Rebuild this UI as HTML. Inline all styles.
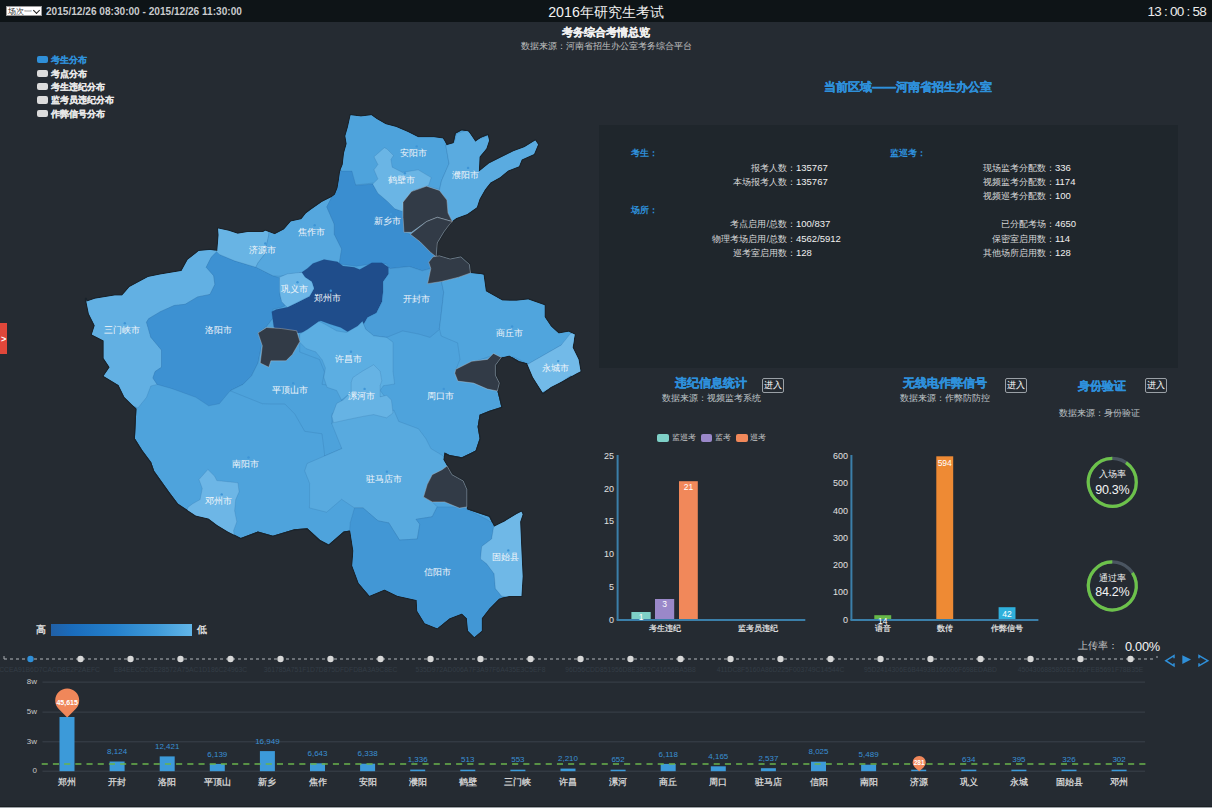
<!DOCTYPE html>
<html><head><meta charset="utf-8">
<style>
*{margin:0;padding:0;box-sizing:border-box}
html,body{width:1212px;height:808px;overflow:hidden;background:#252b32;font-family:"Liberation Sans",sans-serif;color:#ddd;position:relative}
.a{position:absolute;white-space:nowrap}
#hdr{position:absolute;left:0;top:0;width:1212px;height:22px;background:#0e1417}
.sel{position:absolute;left:6px;top:6px;width:36px;height:10px;background:#fff;border:1px solid #999;font-size:8px;color:#333;line-height:9px;padding-left:1px}
.sel i{position:absolute;right:2px;top:1px;width:5px;height:5px;border-right:1.3px solid #222;border-bottom:1.3px solid #222;transform:rotate(45deg)}
.ml{font-size:9px;fill:#f2f6fa}
.leg{position:absolute;left:36.5px;width:11px;height:7.5px;border-radius:2px;background:#dcdcdc}
.legt{position:absolute;left:50.5px;font-size:9px;font-weight:bold;color:#e6e6e6;line-height:12px;-webkit-text-stroke:0.2px currentColor}
.lbl{font-size:9.3px;color:#d8d8d8;line-height:12px;text-align:right}
.val{font-size:9.5px;color:#f0f0f0;line-height:12px}
.ctitle{font-size:12px;font-weight:bold;color:#2e90db;line-height:14px;-webkit-text-stroke:0.3px #2e90db}
.btn{position:absolute;width:22px;height:15px;border:1px solid #9aa0a6;border-radius:2px;font-size:9px;color:#fff;text-align:center;line-height:13px}
.sub{font-size:9px;color:#bfc3c7;line-height:11px}
.tick{font-size:9px;color:#e0e0e0;line-height:10px;text-align:right}
</style></head><body>
<div id="hdr"></div>
<div class="sel">场次一<i></i></div>
<div class="a" style="left:46px;top:5px;font-size:10.1px;font-weight:bold;color:#c9cbcd;line-height:14px">2015/12/26 08:30:00 - 2015/12/26 11:30:00</div>
<div class="a" style="left:0;width:1212px;text-align:center;top:3px;font-size:14.2px;color:#f2f2f2;line-height:18px">2016年研究生考试</div>
<div class="a" style="right:6px;top:3px;font-size:13.5px;letter-spacing:-0.75px;color:#ececec;line-height:17px">13 : 00 : 58</div>

<div class="a" style="left:0;width:1212px;text-align:center;top:25px;font-size:11.4px;font-weight:bold;color:#f0f0f0;line-height:14px;-webkit-text-stroke:0.25px #f0f0f0">考务综合考情总览</div>
<div class="a" style="left:0;width:1212px;text-align:center;top:40px;font-size:9px;color:#c0c0c0;line-height:12px">数据来源：河南省招生办公室考务综合平台</div>

<div class="leg" style="top:55.5px;background:#2f8fd8"></div><div class="legt" style="top:53.5px;color:#2f8fd8">考生分布</div>
<div class="leg" style="top:69.5px"></div><div class="legt" style="top:67.5px">考点分布</div>
<div class="leg" style="top:82.7px"></div><div class="legt" style="top:80.7px">考生违纪分布</div>
<div class="leg" style="top:96.2px"></div><div class="legt" style="top:94.2px">监考员违纪分布</div>
<div class="leg" style="top:109.7px"></div><div class="legt" style="top:107.7px">作弊信号分布</div>

<svg class="a" style="left:0;top:0" width="1212" height="808" viewBox="0 0 1212 808">
<defs><clipPath id="cp"><polygon points="86.2,301.8 94.9,298.7 114.7,295.6 122.1,295.6 129.5,287.0 148.1,277.1 160.4,274.6 181.5,270.9 187.7,259.8 198.8,251.1 210.0,249.9 217.4,251.1 218.6,235.0 218.1,228.5 228.5,230.8 237.7,233.7 248.1,232.0 263.1,232.0 265.4,230.8 274.7,234.3 283.9,229.6 290.9,221.6 301.3,219.2 305.9,213.5 310.5,210.0 321.9,202.0 331.8,197.0 335.0,194.5 337.6,188.0 338.9,180.2 340.2,171.1 342.8,164.6 344.1,152.9 346.7,143.8 345.4,136.0 348.0,126.9 350.6,115.2 361.0,116.5 371.4,115.2 376.6,119.1 385.7,124.3 396.1,126.9 407.8,132.1 418.2,137.3 433.8,137.3 442.9,138.6 446.8,145.1 453.6,143.2 455.7,133.6 461.8,130.2 468.6,131.6 475.4,141.8 480.9,137.7 487.7,135.0 489.0,140.4 486.3,148.6 479.5,156.8 478.8,171.8 489.0,163.6 499.9,158.1 513.5,151.3 524.4,147.2 535.3,140.4 538.0,144.5 534.0,154.0 521.7,159.5 519.0,166.3 508.1,170.4 499.9,177.2 490.4,182.6 484.9,189.5 479.5,199.0 476.8,207.2 467.2,214.0 456.3,218.1 450.9,222.1 443.7,232.2 437.3,242.9 436.2,256.8 439.4,255.8 450.1,259.0 460.9,256.8 469.4,264.4 470.5,273.0 480.2,274.0 483.5,274.7 485.8,291.2 502.3,300.6 516.6,300.8 528.2,299.4 544.6,305.3 544.6,317.0 551.0,326.6 558.7,333.5 568.6,331.7 574.6,334.6 572.6,347.5 578.5,359.4 580.5,371.2 576.6,373.2 562.7,381.1 550.8,387.1 542.9,393.0 533.0,377.2 527.1,363.3 519.2,361.3 509.3,355.4 501.3,357.4 495.4,365.3 495.4,375.2 499.4,383.1 497.4,391.0 499.4,399.0 501.3,406.9 489.5,410.8 479.6,414.8 477.6,426.7 479.6,438.5 475.6,450.4 471.8,452.4 461.9,457.3 449.5,454.9 444.6,452.4 443.3,459.8 447.1,466.0 452.0,474.7 463.2,480.9 466.9,489.5 466.9,509.3 474.3,511.8 489.2,516.8 494.1,526.7 504.0,521.7 516.4,514.3 521.4,511.8 522.6,514.3 520.1,521.7 521.4,551.5 522.6,576.2 521.4,596.0 509.0,596.0 499.1,598.5 489.2,608.4 481.7,618.3 481.7,630.7 474.3,636.9 468.1,630.7 466.9,618.3 461.9,613.4 449.5,618.3 437.2,628.2 424.8,623.3 417.3,610.9 416.7,600.1 397.4,595.8 384.5,589.4 369.5,595.8 358.7,583.0 352.3,565.8 353.4,550.8 350.2,530.4 343.7,531.5 328.7,544.4 320.1,540.1 307.3,528.3 294.4,529.3 272.9,535.8 257.9,531.5 240.8,537.9 227.9,531.5 217.2,525.0 208.6,518.6 200.0,516.5 195.8,515.6 178.0,503.7 169.0,491.8 154.2,471.1 151.2,462.2 142.3,450.3 134.9,438.4 136.4,408.7 124.5,396.9 118.6,385.0 103.7,376.1 109.7,367.2 103.7,358.3 103.7,340.5 91.9,334.5 94.8,325.6 88.9,313.7 85.9,298.9"/></clipPath></defs>
<polygon points="86.2,301.8 94.9,298.7 114.7,295.6 122.1,295.6 129.5,287.0 148.1,277.1 160.4,274.6 181.5,270.9 187.7,259.8 198.8,251.1 210.0,249.9 217.4,251.1 218.6,235.0 218.1,228.5 228.5,230.8 237.7,233.7 248.1,232.0 263.1,232.0 265.4,230.8 274.7,234.3 283.9,229.6 290.9,221.6 301.3,219.2 305.9,213.5 310.5,210.0 321.9,202.0 331.8,197.0 335.0,194.5 337.6,188.0 338.9,180.2 340.2,171.1 342.8,164.6 344.1,152.9 346.7,143.8 345.4,136.0 348.0,126.9 350.6,115.2 361.0,116.5 371.4,115.2 376.6,119.1 385.7,124.3 396.1,126.9 407.8,132.1 418.2,137.3 433.8,137.3 442.9,138.6 446.8,145.1 453.6,143.2 455.7,133.6 461.8,130.2 468.6,131.6 475.4,141.8 480.9,137.7 487.7,135.0 489.0,140.4 486.3,148.6 479.5,156.8 478.8,171.8 489.0,163.6 499.9,158.1 513.5,151.3 524.4,147.2 535.3,140.4 538.0,144.5 534.0,154.0 521.7,159.5 519.0,166.3 508.1,170.4 499.9,177.2 490.4,182.6 484.9,189.5 479.5,199.0 476.8,207.2 467.2,214.0 456.3,218.1 450.9,222.1 443.7,232.2 437.3,242.9 436.2,256.8 439.4,255.8 450.1,259.0 460.9,256.8 469.4,264.4 470.5,273.0 480.2,274.0 483.5,274.7 485.8,291.2 502.3,300.6 516.6,300.8 528.2,299.4 544.6,305.3 544.6,317.0 551.0,326.6 558.7,333.5 568.6,331.7 574.6,334.6 572.6,347.5 578.5,359.4 580.5,371.2 576.6,373.2 562.7,381.1 550.8,387.1 542.9,393.0 533.0,377.2 527.1,363.3 519.2,361.3 509.3,355.4 501.3,357.4 495.4,365.3 495.4,375.2 499.4,383.1 497.4,391.0 499.4,399.0 501.3,406.9 489.5,410.8 479.6,414.8 477.6,426.7 479.6,438.5 475.6,450.4 471.8,452.4 461.9,457.3 449.5,454.9 444.6,452.4 443.3,459.8 447.1,466.0 452.0,474.7 463.2,480.9 466.9,489.5 466.9,509.3 474.3,511.8 489.2,516.8 494.1,526.7 504.0,521.7 516.4,514.3 521.4,511.8 522.6,514.3 520.1,521.7 521.4,551.5 522.6,576.2 521.4,596.0 509.0,596.0 499.1,598.5 489.2,608.4 481.7,618.3 481.7,630.7 474.3,636.9 468.1,630.7 466.9,618.3 461.9,613.4 449.5,618.3 437.2,628.2 424.8,623.3 417.3,610.9 416.7,600.1 397.4,595.8 384.5,589.4 369.5,595.8 358.7,583.0 352.3,565.8 353.4,550.8 350.2,530.4 343.7,531.5 328.7,544.4 320.1,540.1 307.3,528.3 294.4,529.3 272.9,535.8 257.9,531.5 240.8,537.9 227.9,531.5 217.2,525.0 208.6,518.6 200.0,516.5 195.8,515.6 178.0,503.7 169.0,491.8 154.2,471.1 151.2,462.2 142.3,450.3 134.9,438.4 136.4,408.7 124.5,396.9 118.6,385.0 103.7,376.1 109.7,367.2 103.7,358.3 103.7,340.5 91.9,334.5 94.8,325.6 88.9,313.7 85.9,298.9" fill="none" stroke="#1a232b" stroke-width="2.2" stroke-linejoin="round"/>
<g clip-path="url(#cp)">
<polygon points="86.2,301.8 94.9,298.7 114.7,295.6 122.1,295.6 129.5,287.0 148.1,277.1 160.4,274.6 181.5,270.9 187.7,259.8 198.8,251.1 210.0,249.9 217.4,251.1 218.6,235.0 218.1,228.5 228.5,230.8 237.7,233.7 248.1,232.0 263.1,232.0 265.4,230.8 274.7,234.3 283.9,229.6 290.9,221.6 301.3,219.2 305.9,213.5 310.5,210.0 321.9,202.0 331.8,197.0 335.0,194.5 337.6,188.0 338.9,180.2 340.2,171.1 342.8,164.6 344.1,152.9 346.7,143.8 345.4,136.0 348.0,126.9 350.6,115.2 361.0,116.5 371.4,115.2 376.6,119.1 385.7,124.3 396.1,126.9 407.8,132.1 418.2,137.3 433.8,137.3 442.9,138.6 446.8,145.1 453.6,143.2 455.7,133.6 461.8,130.2 468.6,131.6 475.4,141.8 480.9,137.7 487.7,135.0 489.0,140.4 486.3,148.6 479.5,156.8 478.8,171.8 489.0,163.6 499.9,158.1 513.5,151.3 524.4,147.2 535.3,140.4 538.0,144.5 534.0,154.0 521.7,159.5 519.0,166.3 508.1,170.4 499.9,177.2 490.4,182.6 484.9,189.5 479.5,199.0 476.8,207.2 467.2,214.0 456.3,218.1 450.9,222.1 443.7,232.2 437.3,242.9 436.2,256.8 439.4,255.8 450.1,259.0 460.9,256.8 469.4,264.4 470.5,273.0 480.2,274.0 483.5,274.7 485.8,291.2 502.3,300.6 516.6,300.8 528.2,299.4 544.6,305.3 544.6,317.0 551.0,326.6 558.7,333.5 568.6,331.7 574.6,334.6 572.6,347.5 578.5,359.4 580.5,371.2 576.6,373.2 562.7,381.1 550.8,387.1 542.9,393.0 533.0,377.2 527.1,363.3 519.2,361.3 509.3,355.4 501.3,357.4 495.4,365.3 495.4,375.2 499.4,383.1 497.4,391.0 499.4,399.0 501.3,406.9 489.5,410.8 479.6,414.8 477.6,426.7 479.6,438.5 475.6,450.4 471.8,452.4 461.9,457.3 449.5,454.9 444.6,452.4 443.3,459.8 447.1,466.0 452.0,474.7 463.2,480.9 466.9,489.5 466.9,509.3 474.3,511.8 489.2,516.8 494.1,526.7 504.0,521.7 516.4,514.3 521.4,511.8 522.6,514.3 520.1,521.7 521.4,551.5 522.6,576.2 521.4,596.0 509.0,596.0 499.1,598.5 489.2,608.4 481.7,618.3 481.7,630.7 474.3,636.9 468.1,630.7 466.9,618.3 461.9,613.4 449.5,618.3 437.2,628.2 424.8,623.3 417.3,610.9 416.7,600.1 397.4,595.8 384.5,589.4 369.5,595.8 358.7,583.0 352.3,565.8 353.4,550.8 350.2,530.4 343.7,531.5 328.7,544.4 320.1,540.1 307.3,528.3 294.4,529.3 272.9,535.8 257.9,531.5 240.8,537.9 227.9,531.5 217.2,525.0 208.6,518.6 200.0,516.5 195.8,515.6 178.0,503.7 169.0,491.8 154.2,471.1 151.2,462.2 142.3,450.3 134.9,438.4 136.4,408.7 124.5,396.9 118.6,385.0 103.7,376.1 109.7,367.2 103.7,358.3 103.7,340.5 91.9,334.5 94.8,325.6 88.9,313.7 85.9,298.9" fill="#4ea3dc" stroke="none" stroke-width="0" stroke-linejoin="round"/>
<polygon points="217.4,230.0 217.4,251.1 211.2,257.3 206.2,267.2 213.7,275.8 214.9,284.5 210.0,294.4 197.6,296.9 185.2,304.3 174.1,305.5 160.4,311.7 148.6,318.7 146.5,322.2 150.8,337.2 161.5,350.1 161.5,367.2 155.1,371.5 152.9,378.0 157.2,384.4 150.8,386.0 146.5,397.3 137.9,408.0 120.0,400.0 60.0,420.0 60.0,280.0" fill="#62b0e3" stroke="rgba(35,85,135,0.22)" stroke-width="0.7" stroke-linejoin="round"/>
<polygon points="217.4,251.1 219.4,254.4 234.5,260.8 255.9,267.2 273.0,275.8 279.8,278.0 281.0,283.7 279.8,296.0 284.8,305.9 281.7,307.2 273.1,309.3 273.1,317.9 266.6,326.5 258.0,332.9 262.3,341.5 258.0,363.0 251.6,375.8 243.0,384.4 230.2,390.8 219.4,403.7 208.7,405.8 195.8,397.3 172.2,388.7 157.2,384.4 152.9,378.0 155.1,371.5 161.5,367.2 161.5,350.1 150.8,337.2 146.5,322.2 148.6,318.7 160.4,311.7 174.1,305.5 185.2,304.3 197.6,296.9 210.0,294.4 214.9,284.5 213.7,275.8 206.2,267.2 211.2,257.3" fill="#3d91d2" stroke="rgba(35,85,135,0.22)" stroke-width="0.7" stroke-linejoin="round"/>
<polygon points="243.0,384.4 251.6,375.8 258.0,363.0 262.3,341.5 258.0,332.9 266.6,326.5 273.1,317.9 286.0,311.5 303.1,330.8 316.0,328.6 299.7,334.8 299.7,352.0 319.5,359.5 324.5,371.9 322.0,384.3 336.8,386.7 341.8,399.1 341.8,404.0 331.9,414.0 331.9,423.9 344.3,426.3 341.8,448.6 324.5,456.0 324.5,453.6 322.0,433.8 304.7,431.3 294.8,414.0 284.9,404.0 270.0,404.0 262.3,403.7 251.6,399.4 230.2,390.8" fill="#4da2db" stroke="rgba(35,85,135,0.22)" stroke-width="0.7" stroke-linejoin="round"/>
<polygon points="215.0,215.0 270.0,215.0 268.8,235.0 264.5,254.4 258.0,262.9 255.9,267.2 234.5,260.8 219.4,254.4 215.0,250.0" fill="#68b4e4" stroke="rgba(35,85,135,0.22)" stroke-width="0.7" stroke-linejoin="round"/>
<polygon points="270.0,215.0 331.8,180.0 331.8,197.0 326.8,206.9 334.3,224.3 334.3,234.2 341.7,249.0 339.2,263.9 324.4,260.1 314.5,263.9 304.6,272.5 292.2,273.8 279.8,276.2 273.0,275.8 255.9,267.2 258.0,262.9 264.5,254.4 268.8,235.0" fill="#55a7de" stroke="rgba(35,85,135,0.22)" stroke-width="0.7" stroke-linejoin="round"/>
<polygon points="330.0,100.0 445.8,100.0 445.8,145.4 449.0,163.6 441.5,180.8 439.4,189.4 426.5,186.2 411.5,191.5 403.0,202.2 400.8,208.7 392.2,200.0 383.6,189.4 373.0,183.0 355.7,185.0 340.7,170.0 330.0,170.0" fill="#4ea3dc" stroke="rgba(35,85,135,0.22)" stroke-width="0.7" stroke-linejoin="round"/>
<polygon points="325.0,160.0 339.2,165.0 340.2,171.1 351.9,171.1 355.8,185.4 372.7,184.1 377.9,193.2 387.0,201.0 394.8,208.8 402.6,211.4 403.0,217.3 404.0,232.3 410.4,234.3 420.1,241.8 430.8,252.6 436.2,256.8 433.0,258.0 428.7,262.2 430.8,268.6 422.2,270.8 409.4,266.5 390.0,268.6 386.2,263.9 371.4,263.9 356.5,266.3 339.2,263.9 341.7,249.0 334.3,234.2 334.3,224.3 326.8,206.9 331.8,197.0" fill="#3a8ed0" stroke="rgba(35,85,135,0.22)" stroke-width="0.7" stroke-linejoin="round"/>
<polygon points="384.4,147.7 374.0,156.8 377.9,164.6 374.0,169.8 377.9,178.9 372.7,184.1 377.9,193.2 387.0,201.0 394.8,208.8 402.6,211.4 403.9,201.0 413.0,190.6 428.6,185.4 431.2,177.6 418.2,169.8 402.6,172.4 392.2,167.2 390.9,159.4 393.5,155.5 387.0,149.0" fill="#6ab5e5" stroke="rgba(35,85,135,0.22)" stroke-width="0.7" stroke-linejoin="round"/>
<polygon points="445.8,145.4 454.4,142.2 456.6,133.6 467.3,130.4 475.9,140.0 487.7,135.7 500.0,130.0 545.0,135.0 545.0,150.0 480.0,215.0 452.3,221.6 448.0,213.0 446.9,200.1 439.4,190.4 441.5,180.8 449.0,163.6" fill="#5aabe0" stroke="rgba(35,85,135,0.22)" stroke-width="0.7" stroke-linejoin="round"/>
<polygon points="301.8,272.3 307.3,268.4 312.9,263.4 324.0,259.5 337.4,261.7 343.0,266.1 354.1,267.3 359.7,269.5 371.9,262.8 381.9,262.8 388.6,267.3 388.6,273.9 383.1,281.7 383.1,291.8 382.0,301.8 376.4,312.9 367.5,317.4 361.9,327.4 349.7,333.0 340.7,327.4 329.6,324.1 320.7,320.7 314.0,325.2 306.2,331.9 298.4,333.0 287.3,331.9 273.9,327.4 271.7,311.8 276.1,309.6 287.3,307.3 296.2,302.9 309.6,296.2 314.0,288.4 311.8,281.7 305.1,277.3 299.5,272.8" fill="#1f4d8b" stroke="rgba(35,85,135,0.22)" stroke-width="0.7" stroke-linejoin="round"/>
<polygon points="279.5,277.3 287.3,273.9 301.8,272.3 305.1,277.3 311.8,281.7 314.0,288.4 309.6,296.2 296.2,302.9 287.3,307.3 281.7,301.8 279.5,291.8" fill="#6db7e7" stroke="rgba(35,85,135,0.22)" stroke-width="0.7" stroke-linejoin="round"/>
<polygon points="388.6,267.3 390.0,268.6 409.4,266.5 422.2,270.8 430.8,268.6 427.6,283.7 441.5,281.5 443.7,292.2 441.5,311.6 439.4,328.7 439.7,329.3 430.0,337.4 418.8,334.1 402.7,330.9 386.6,337.4 373.7,335.8 365.7,329.3 362.4,321.3 361.9,327.4 367.5,317.4 376.4,312.9 382.0,301.8 383.1,291.8 383.1,281.7 388.6,273.9" fill="#4a9dd8" stroke="rgba(35,85,135,0.22)" stroke-width="0.7" stroke-linejoin="round"/>
<polygon points="441.5,281.5 458.7,277.2 470.5,273.0 480.0,274.0 590.0,280.0 590.0,345.0 561.1,345.2 528.2,364.0 514.0,357.0 501.1,357.0 495.2,354.6 481.1,359.3 467.0,364.0 455.3,371.1 460.0,359.3 457.6,342.9 441.2,336.0 439.4,328.7 441.5,311.6 443.7,292.2" fill="#50a5dd" stroke="rgba(35,85,135,0.22)" stroke-width="0.7" stroke-linejoin="round"/>
<polygon points="528.2,364.0 561.1,345.2 570.5,333.5 600.0,330.0 600.0,380.0 570.5,375.8 556.4,385.2 542.3,392.3 532.9,378.2 525.8,364.0" fill="#72bae8" stroke="rgba(35,85,135,0.22)" stroke-width="0.7" stroke-linejoin="round"/>
<polygon points="331.9,423.9 333.5,420.0 347.9,416.5 364.0,413.0 373.7,411.5 386.6,414.5 393.8,410.0 398.7,421.4 418.5,428.8 425.9,438.7 430.9,448.6 443.3,456.0 447.1,466.0 442.1,469.7 432.2,474.7 427.2,484.6 423.5,497.0 432.2,501.9 437.2,506.9 432.2,516.8 416.1,519.3 419.8,524.2 417.3,539.0 399.5,540.1 388.8,522.9 378.0,520.8 363.0,507.9 354.5,507.9 341.6,499.3 326.6,512.2 309.4,507.9 309.6,503.0 309.6,483.3 304.7,470.9 307.1,463.5 324.5,456.0 341.8,448.6" fill="#58aadf" stroke="rgba(35,85,135,0.22)" stroke-width="0.7" stroke-linejoin="round"/>
<polygon points="299.7,334.1 307.7,329.3 319.0,321.3 325.4,324.5 336.7,330.9 346.3,332.5 357.6,326.1 362.4,321.3 365.7,329.3 373.7,335.8 386.6,337.4 393.0,342.2 393.0,371.2 394.6,384.0 383.4,385.7 380.1,390.5 385.0,396.9 380.1,396.9 351.2,392.1 341.5,400.1 336.7,390.5 327.0,387.3 323.8,377.6 325.4,367.9 322.2,359.9 315.8,351.9 306.1,348.6 299.7,342.2" fill="#5caee2" stroke="rgba(35,85,135,0.22)" stroke-width="0.7" stroke-linejoin="round"/>
<polygon points="352.8,377.6 362.4,371.2 373.7,364.7 380.1,371.2 381.8,380.8 380.1,385.7 380.1,396.9 386.6,395.3 391.4,400.1 393.0,413.0 386.6,417.8 373.7,414.6 364.0,416.2 347.9,419.5 333.5,422.7 331.9,416.2 336.7,403.4 343.1,400.1 351.2,392.1 351.2,382.4" fill="#66b3e4" stroke="rgba(35,85,135,0.22)" stroke-width="0.7" stroke-linejoin="round"/>
<polygon points="207.9,469.5 214.6,476.2 216.8,480.6 227.9,481.7 237.9,482.8 239.1,491.8 235.7,499.6 234.6,510.7 236.8,521.8 233.5,530.7 236.0,545.0 180.0,545.0 187.8,507.4 192.3,504.0 200.1,499.6 202.3,488.4 199.0,479.5" fill="#6db6e6" stroke="rgba(35,85,135,0.22)" stroke-width="0.7" stroke-linejoin="round"/>
<polygon points="354.5,507.9 363.0,507.9 378.0,520.8 388.8,522.9 399.5,540.1 417.3,539.0 419.8,524.2 416.1,519.3 432.2,516.8 437.2,506.9 461.9,506.9 471.8,511.8 486.7,519.3 494.1,524.2 491.6,539.0 481.7,546.5 480.5,558.9 486.7,563.8 494.1,573.7 495.4,588.6 501.5,596.0 501.5,660.0 340.0,660.0 350.2,522.9" fill="#4297d5" stroke="rgba(35,85,135,0.22)" stroke-width="0.7" stroke-linejoin="round"/>
<polygon points="494.1,524.2 504.0,521.7 530.0,505.0 530.0,600.0 501.5,596.0 495.4,588.6 494.1,573.7 486.7,563.8 480.5,558.9 481.7,546.5 491.6,539.0" fill="#6fb8e7" stroke="rgba(35,85,135,0.22)" stroke-width="0.7" stroke-linejoin="round"/>
</g>
<polygon points="403.0,202.2 411.5,191.5 426.5,186.2 439.4,190.4 446.9,200.1 448.0,213.0 452.3,221.6 437.3,217.3 426.5,221.6 411.5,232.3 404.0,232.3 403.0,217.3" fill="#323b47" stroke="rgba(200,205,210,0.55)" stroke-width="0.7" stroke-linejoin="round"/>
<polygon points="410.4,234.3 426.5,221.6 437.3,217.3 452.3,221.6 450.1,223.6 443.7,232.2 437.3,242.9 436.2,256.8 430.8,252.6 420.1,241.8" fill="#323b47" stroke="rgba(200,205,210,0.55)" stroke-width="0.7" stroke-linejoin="round"/>
<polygon points="433.0,256.8 439.4,255.8 450.1,259.0 460.9,256.8 469.4,264.4 470.5,273.0 458.7,277.2 441.5,281.5 427.6,283.7 430.8,268.6 428.7,262.2" fill="#323b47" stroke="rgba(200,205,210,0.55)" stroke-width="0.7" stroke-linejoin="round"/>
<polygon points="258.0,332.9 266.6,327.5 281.7,328.6 296.7,330.8 299.9,341.5 292.4,354.4 286.0,360.8 270.9,360.8 268.8,367.2 260.2,363.0 262.3,345.8" fill="#323b47" stroke="rgba(200,205,210,0.55)" stroke-width="0.7" stroke-linejoin="round"/>
<polygon points="442.1,469.7 447.1,466.0 452.0,474.7 463.2,480.9 466.9,489.5 466.9,506.9 459.4,508.1 444.6,501.9 432.2,501.9 423.5,497.0 427.2,484.6 432.2,474.7" fill="#323b47" stroke="rgba(200,205,210,0.55)" stroke-width="0.7" stroke-linejoin="round"/>
<polygon points="455.8,369.3 471.7,361.3 487.5,359.4 493.4,353.4 501.3,357.4 495.4,365.3 495.4,375.2 499.4,383.1 497.4,391.0 487.5,389.1 473.6,383.1 457.8,381.1 454.8,373.2" fill="#323b47" stroke="rgba(200,205,210,0.55)" stroke-width="0.7" stroke-linejoin="round"/>
<circle cx="416.7" cy="146.4" r="1.2" fill="#3f95d6"/>
<text x="413.7" y="156.1" text-anchor="middle" class="ml">安阳市</text>
<circle cx="404.9" cy="173.2" r="1.2" fill="#3f95d6"/>
<text x="401.9" y="182.9" text-anchor="middle" class="ml">鹤壁市</text>
<circle cx="468.1" cy="167.9" r="1.2" fill="#3f95d6"/>
<text x="465.1" y="177.6" text-anchor="middle" class="ml">濮阳市</text>
<circle cx="390.9" cy="214.0" r="1.2" fill="#3f95d6"/>
<text x="387.9" y="223.7" text-anchor="middle" class="ml">新乡市</text>
<circle cx="314.7" cy="225.3" r="1.2" fill="#3f95d6"/>
<text x="311.7" y="235.0" text-anchor="middle" class="ml">焦作市</text>
<circle cx="265.3" cy="243.5" r="1.2" fill="#3f95d6"/>
<text x="262.3" y="253.2" text-anchor="middle" class="ml">济源市</text>
<circle cx="297.5" cy="282.2" r="1.2" fill="#3f95d6"/>
<text x="294.5" y="291.9" text-anchor="middle" class="ml">巩义市</text>
<circle cx="330.8" cy="290.8" r="1.2" fill="#3f95d6"/>
<text x="327.8" y="300.5" text-anchor="middle" class="ml">郑州市</text>
<circle cx="124.8" cy="323.2" r="1.2" fill="#3f95d6"/>
<text x="121.8" y="332.9" text-anchor="middle" class="ml">三门峡市</text>
<circle cx="221.4" cy="323.2" r="1.2" fill="#3f95d6"/>
<text x="218.4" y="332.9" text-anchor="middle" class="ml">洛阳市</text>
<circle cx="293.2" cy="383.3" r="1.2" fill="#3f95d6"/>
<text x="290.2" y="393.0" text-anchor="middle" class="ml">平顶山市</text>
<circle cx="351.0" cy="351.8" r="1.2" fill="#3f95d6"/>
<text x="348.0" y="361.5" text-anchor="middle" class="ml">许昌市</text>
<circle cx="364.6" cy="388.9" r="1.2" fill="#3f95d6"/>
<text x="361.6" y="398.6" text-anchor="middle" class="ml">漯河市</text>
<circle cx="443.8" cy="388.9" r="1.2" fill="#3f95d6"/>
<text x="440.8" y="398.6" text-anchor="middle" class="ml">周口市</text>
<circle cx="386.9" cy="471.8" r="1.2" fill="#3f95d6"/>
<text x="383.9" y="481.5" text-anchor="middle" class="ml">驻马店市</text>
<circle cx="419.9" cy="292.2" r="1.2" fill="#3f95d6"/>
<text x="416.9" y="301.9" text-anchor="middle" class="ml">开封市</text>
<circle cx="512.1" cy="326.5" r="1.2" fill="#3f95d6"/>
<text x="509.1" y="336.2" text-anchor="middle" class="ml">商丘市</text>
<circle cx="558.2" cy="361.1" r="1.2" fill="#3f95d6"/>
<text x="555.2" y="370.8" text-anchor="middle" class="ml">永城市</text>
<circle cx="248.5" cy="457.5" r="1.2" fill="#3f95d6"/>
<text x="245.5" y="467.2" text-anchor="middle" class="ml">南阳市</text>
<circle cx="221.7" cy="494.4" r="1.2" fill="#3f95d6"/>
<text x="218.7" y="504.1" text-anchor="middle" class="ml">邓州市</text>
<circle cx="440.2" cy="564.8" r="1.2" fill="#3f95d6"/>
<text x="437.2" y="574.5" text-anchor="middle" class="ml">信阳市</text>
<circle cx="508.3" cy="550.4" r="1.2" fill="#3f95d6"/>
<text x="505.3" y="560.1" text-anchor="middle" class="ml">固始县</text>
<line x1="617.6" y1="455" x2="617.6" y2="620" stroke="#3b7fa9" stroke-width="2"/>
<line x1="616.6" y1="620" x2="805.3" y2="620" stroke="#3b7fa9" stroke-width="2"/>
<rect x="631.4" y="612" width="19.3" height="7.0" fill="#7ed0c7"/>
<rect x="655" y="599" width="19.2" height="20.0" fill="#9a88c9"/>
<rect x="679" y="481.2" width="18.8" height="137.8" fill="#f1885a"/>
<line x1="851.4" y1="455" x2="851.4" y2="620" stroke="#3b7fa9" stroke-width="2"/>
<line x1="850.4" y1="620" x2="1038.4" y2="620" stroke="#3b7fa9" stroke-width="2"/>
<rect x="874.3" y="615.2" width="16.9" height="3.8" fill="#66b848"/>
<rect x="936.3" y="456.3" width="16.9" height="162.7" fill="#ee8a34"/>
<rect x="998.6" y="607.2" width="16.9" height="11.8" fill="#2fb0dc"/>
<circle cx="1112.3" cy="482.3" r="24" fill="none" stroke="#4a5561" stroke-width="3.2"/>
<path d="M1126.04,462.62 A24,24 0 1 1 1112.3,458.3" fill="none" stroke="#6cc24a" stroke-width="3.2"/>
<circle cx="1112.3" cy="585.9" r="24" fill="none" stroke="#4a5561" stroke-width="3.2"/>
<path d="M1132.40,572.79 A24,24 0 1 1 1112.3,561.9" fill="none" stroke="#6cc24a" stroke-width="3.2"/>
<line x1="4" y1="659" x2="1156" y2="659" stroke="#b4b8bc" stroke-width="1" stroke-dasharray="3,3"/>
<line x1="4" y1="656" x2="4" y2="659" stroke="#a9adb1" stroke-width="1"/>
<line x1="1157" y1="656" x2="1157" y2="658" stroke="#a9adb1" stroke-width="1"/>
<circle cx="30.5" cy="659" r="3.2" fill="#2f8fd8"/>
<circle cx="80.5" cy="659" r="3.2" fill="#d8d8d8"/>
<circle cx="130.5" cy="659" r="3.2" fill="#d8d8d8"/>
<circle cx="180.5" cy="659" r="3.2" fill="#d8d8d8"/>
<circle cx="230.5" cy="659" r="3.2" fill="#d8d8d8"/>
<circle cx="280.5" cy="659" r="3.2" fill="#d8d8d8"/>
<circle cx="330.5" cy="659" r="3.2" fill="#d8d8d8"/>
<circle cx="380.5" cy="659" r="3.2" fill="#d8d8d8"/>
<circle cx="430.5" cy="659" r="3.2" fill="#d8d8d8"/>
<circle cx="480.5" cy="659" r="3.2" fill="#d8d8d8"/>
<circle cx="530.5" cy="659" r="3.2" fill="#d8d8d8"/>
<circle cx="580.5" cy="659" r="3.2" fill="#d8d8d8"/>
<circle cx="630.5" cy="659" r="3.2" fill="#d8d8d8"/>
<circle cx="680.5" cy="659" r="3.2" fill="#d8d8d8"/>
<circle cx="730.5" cy="659" r="3.2" fill="#d8d8d8"/>
<circle cx="780.5" cy="659" r="3.2" fill="#d8d8d8"/>
<circle cx="830.5" cy="659" r="3.2" fill="#d8d8d8"/>
<circle cx="880.5" cy="659" r="3.2" fill="#d8d8d8"/>
<circle cx="930.5" cy="659" r="3.2" fill="#d8d8d8"/>
<circle cx="980.5" cy="659" r="3.2" fill="#d8d8d8"/>
<circle cx="1030.5" cy="659" r="3.2" fill="#d8d8d8"/>
<circle cx="1080.5" cy="659" r="3.2" fill="#d8d8d8"/>
<circle cx="1130.5" cy="659" r="3.2" fill="#d8d8d8"/>
<path d="M1174,658.2 L1174,655.6 L1165.8,660.7 L1174,665.8 L1174,663.2" fill="none" stroke="#2f8fd8" stroke-width="1.5" stroke-linejoin="miter"/>
<path d="M1182.3,655.3 L1191,659.6 L1182.3,664 Z" fill="#2f8fd8"/>
<path d="M1199,658.2 L1199,655.6 L1207.8,660.7 L1199,665.8 L1199,663.2" fill="none" stroke="#2f8fd8" stroke-width="1.5" stroke-linejoin="miter"/>
<line x1="42.5" y1="682.1" x2="1145" y2="682.1" stroke="#3a424b" stroke-width="1"/>
<line x1="42.5" y1="712.1" x2="1145" y2="712.1" stroke="#3a424b" stroke-width="1"/>
<line x1="42.5" y1="741.8" x2="1145" y2="741.8" stroke="#3a424b" stroke-width="1"/>
<line x1="42.5" y1="771.2" x2="1145" y2="771.2" stroke="#3a424b" stroke-width="1"/>
<rect x="59.5" y="717.0" width="15" height="54.2" fill="#3c9ad9"/>
<rect x="109.6" y="761.5" width="15" height="9.7" fill="#3c9ad9"/>
<rect x="159.7" y="756.4" width="15" height="14.8" fill="#3c9ad9"/>
<rect x="209.8" y="763.9" width="15" height="7.3" fill="#3c9ad9"/>
<rect x="259.9" y="751.1" width="15" height="20.1" fill="#3c9ad9"/>
<rect x="310.0" y="763.3" width="15" height="7.9" fill="#3c9ad9"/>
<rect x="360.1" y="763.7" width="15" height="7.5" fill="#3c9ad9"/>
<rect x="410.2" y="769.6" width="15" height="1.6" fill="#3c9ad9"/>
<rect x="460.3" y="769.7" width="15" height="1.5" fill="#3c9ad9"/>
<rect x="510.4" y="769.7" width="15" height="1.5" fill="#3c9ad9"/>
<rect x="560.5" y="768.6" width="15" height="2.6" fill="#3c9ad9"/>
<rect x="610.6" y="769.7" width="15" height="1.5" fill="#3c9ad9"/>
<rect x="660.7" y="763.9" width="15" height="7.3" fill="#3c9ad9"/>
<rect x="710.8" y="766.3" width="15" height="4.9" fill="#3c9ad9"/>
<rect x="760.9" y="768.2" width="15" height="3.0" fill="#3c9ad9"/>
<rect x="811.0" y="761.7" width="15" height="9.5" fill="#3c9ad9"/>
<rect x="861.1" y="764.7" width="15" height="6.5" fill="#3c9ad9"/>
<rect x="911.2" y="769.7" width="15" height="1.5" fill="#3c9ad9"/>
<rect x="961.3" y="769.7" width="15" height="1.5" fill="#3c9ad9"/>
<rect x="1011.4" y="769.7" width="15" height="1.5" fill="#3c9ad9"/>
<rect x="1061.5" y="769.7" width="15" height="1.5" fill="#3c9ad9"/>
<rect x="1111.6" y="769.7" width="15" height="1.5" fill="#3c9ad9"/>
<line x1="41.7" y1="764.1" x2="1146" y2="764.1" stroke="#6ab44c" stroke-width="1.5" stroke-dasharray="6.1,5.1"/>
<path d="M67.2,717.4 L58.75,709.02 A12,12 0 1 1 75.65,709.02 Z" fill="#f0875a"/>
<path d="M919.2,771.2 L914.90,767.51 A6.6,6.6 0 1 1 923.50,767.51 Z" fill="#f0875a"/>
</svg>

<div class="a" style="left:36px;top:624px;font-size:10px;font-weight:bold;color:#ddd;line-height:12px">高</div>
<div class="a" style="left:51px;top:624px;width:141px;height:12px;background:linear-gradient(90deg,#2160a6 0%,#1a6cbc 15%,#2580cb 45%,#3f9ad9 75%,#62b6e8 100%)"></div>
<div class="a" style="left:196.5px;top:624px;font-size:10px;font-weight:bold;color:#ddd;line-height:12px">低</div>

<div class="a" style="left:0;top:323px;width:7px;height:31px;background:#e0473a"></div>
<div class="a" style="left:1px;top:332.5px;font-size:9px;font-weight:bold;color:#fff;line-height:12px">&gt;</div>

<div class="a ctitle" style="left:824px;top:80px;font-size:12.1px;line-height:15px">当前区域——河南省招生办公室</div>

<div class="a" style="left:599px;top:125px;width:579px;height:243px;background:#1f262c"></div>
<div class="a" style="left:0;top:806px;width:1212px;height:1px;background:#1b2024"></div>
<div class="a" style="left:0;top:807px;width:1212px;height:1px;background:#9da2a7"></div>
<div class="a" style="left:631px;top:147.2px;font-size:9.3px;font-weight:bold;color:#2e90db;line-height:12px">考生：</div>
<div class="a" style="left:631px;top:203.7px;font-size:9.3px;font-weight:bold;color:#2e90db;line-height:12px">场所：</div>
<div class="a" style="left:889.7px;top:147.4px;font-size:9.3px;font-weight:bold;color:#2e90db;line-height:12px">监巡考：</div>
<div class="a lbl" style="right:416px;top:161.7px">报考人数：</div>
<div class="a val" style="left:796px;top:161.7px">135767</div>
<div class="a lbl" style="right:416px;top:176.0px">本场报考人数：</div>
<div class="a val" style="left:796px;top:176.0px">135767</div>
<div class="a lbl" style="right:416px;top:218.0px">考点启用/总数：</div>
<div class="a val" style="left:796px;top:218.0px">100/837</div>
<div class="a lbl" style="right:416px;top:232.5px">物理考场启用/总数：</div>
<div class="a val" style="left:796px;top:232.5px">4562/5912</div>
<div class="a lbl" style="right:416px;top:246.9px">巡考室启用数：</div>
<div class="a val" style="left:796px;top:246.9px">128</div>
<div class="a lbl" style="right:157px;top:161.5px">现场监考分配数：</div>
<div class="a val" style="left:1055px;top:161.5px">336</div>
<div class="a lbl" style="right:157px;top:175.9px">视频监考分配数：</div>
<div class="a val" style="left:1055px;top:175.9px">1174</div>
<div class="a lbl" style="right:157px;top:190.0px">视频巡考分配数：</div>
<div class="a val" style="left:1055px;top:190.0px">100</div>
<div class="a lbl" style="right:157px;top:217.9px">已分配考场：</div>
<div class="a val" style="left:1055px;top:217.9px">4650</div>
<div class="a lbl" style="right:157px;top:232.6px">保密室启用数：</div>
<div class="a val" style="left:1055px;top:232.6px">114</div>
<div class="a lbl" style="right:157px;top:246.7px">其他场所启用数：</div>
<div class="a val" style="left:1055px;top:246.7px">128</div>
<div class="a ctitle" style="left:655.6px;width:110.69999999999993px;text-align:center;top:376.2px">违纪信息统计</div>
<div class="btn" style="left:762px;top:378px">进入</div>
<div class="a sub" style="left:641.8px;width:139.0px;text-align:center;top:392.9px">数据来源：视频监考系统</div>
<div class="a ctitle" style="left:883.8px;width:122.5px;text-align:center;top:376.2px">无线电作弊信号</div>
<div class="btn" style="left:1005px;top:378px">进入</div>
<div class="a sub" style="left:879.8px;width:129.80000000000007px;text-align:center;top:392.9px">数据来源：作弊防防控</div>
<div class="a ctitle" style="left:1058.8px;width:87.40000000000009px;text-align:center;top:379.0px">身份验证</div>
<div class="btn" style="left:1145px;top:378px">进入</div>
<div class="a sub" style="left:1038.6px;width:121.0px;text-align:center;top:408.0px">数据来源：身份验证</div>
<div class="a" style="left:657px;top:434px;width:12px;height:7.5px;border-radius:2px;background:#7ed0c7"></div>
<div class="a" style="left:671.6px;top:432px;font-size:8px;color:#c8c8c8;line-height:11px">监巡考</div>
<div class="a" style="left:700.6px;top:434px;width:11.399999999999977px;height:7.5px;border-radius:2px;background:#9a88c9"></div>
<div class="a" style="left:715px;top:432px;font-size:8px;color:#c8c8c8;line-height:11px">监考</div>
<div class="a" style="left:736px;top:434px;width:11.5px;height:7.5px;border-radius:2px;background:#f1885a"></div>
<div class="a" style="left:750px;top:432px;font-size:8px;color:#c8c8c8;line-height:11px">巡考</div>
<div class="a tick" style="right:598px;top:614.5px">0</div>
<div class="a tick" style="right:598px;top:581.8px">5</div>
<div class="a tick" style="right:598px;top:549.1px">10</div>
<div class="a tick" style="right:598px;top:516.4px">15</div>
<div class="a tick" style="right:598px;top:483.7px">20</div>
<div class="a tick" style="right:598px;top:451.0px">25</div>
<div class="a" style="left:626.4px;width:29.3px;text-align:center;top:612px;font-size:8.5px;color:#fff;line-height:10px">1</div>
<div class="a" style="left:650px;width:29.2px;text-align:center;top:599px;font-size:8.5px;color:#fff;line-height:10px">3</div>
<div class="a" style="left:674px;width:28.8px;text-align:center;top:482px;font-size:8.5px;color:#fff;line-height:10px">21</div>
<div class="a" style="left:625px;width:80px;text-align:center;top:623.1px;font-size:8px;color:#e8e8e8;line-height:11px;-webkit-text-stroke:0.2px #e8e8e8">考生违纪</div>
<div class="a" style="left:718px;width:80px;text-align:center;top:623.1px;font-size:8px;color:#e8e8e8;line-height:11px;-webkit-text-stroke:0.2px #e8e8e8">监考员违纪</div>
<div class="a tick" style="right:364px;top:614.5px">0</div>
<div class="a tick" style="right:364px;top:587.2px">100</div>
<div class="a tick" style="right:364px;top:560.0px">200</div>
<div class="a tick" style="right:364px;top:532.8px">300</div>
<div class="a tick" style="right:364px;top:505.5px">400</div>
<div class="a tick" style="right:364px;top:478.2px">500</div>
<div class="a tick" style="right:364px;top:451.0px">600</div>
<div class="a" style="left:864.3px;width:36.9px;text-align:center;top:616px;font-size:8.5px;color:#fff;line-height:10px">14</div>
<div class="a" style="left:926.3px;width:36.9px;text-align:center;top:458px;font-size:8.5px;color:#fff;line-height:10px">594</div>
<div class="a" style="left:988.6px;width:36.9px;text-align:center;top:609px;font-size:8.5px;color:#fff;line-height:10px">42</div>
<div class="a" style="left:842.8px;width:80px;text-align:center;top:622.9px;font-size:8px;color:#e8e8e8;line-height:11px;-webkit-text-stroke:0.2px #e8e8e8">语音</div>
<div class="a" style="left:904.8px;width:80px;text-align:center;top:622.9px;font-size:8px;color:#e8e8e8;line-height:11px;-webkit-text-stroke:0.2px #e8e8e8">数传</div>
<div class="a" style="left:967px;width:80px;text-align:center;top:622.9px;font-size:8px;color:#e8e8e8;line-height:11px;-webkit-text-stroke:0.2px #e8e8e8">作弊信号</div>
<div class="a" style="left:1082.3px;width:60px;text-align:center;top:469.1px;font-size:8.5px;color:#f0f0f0;line-height:11px">入场率</div>
<div class="a" style="left:1082.3px;width:60px;text-align:center;top:482.2px;font-size:12.5px;letter-spacing:-0.3px;color:#f4f4f4;line-height:16px">90.3%</div>
<div class="a" style="left:1082.3px;width:60px;text-align:center;top:572.7px;font-size:8.5px;color:#f0f0f0;line-height:11px">通过率</div>
<div class="a" style="left:1082.3px;width:60px;text-align:center;top:584.4px;font-size:12.5px;letter-spacing:-0.3px;color:#f4f4f4;line-height:16px">84.2%</div>
<div class="a" style="left:1078px;top:640px;font-size:9.5px;color:#c4c4c4;line-height:12px">上传率：</div>
<div class="a" style="left:1125px;top:638px;font-size:12.8px;letter-spacing:-0.3px;color:#f4f4f4;line-height:17px">0.00%</div>
<div class="a" style="left:-49.5px;width:160px;text-align:center;top:665px;font-size:6.8px;color:#343d46;line-height:9px">A7B2F0D1DCCEA91B6D7CACD8E2F2AEFC</div>
<div class="a" style="left:100.5px;width:160px;text-align:center;top:665px;font-size:6.8px;color:#343d46;line-height:9px">E84EECC2CE28572A75AC1D186C24963C</div>
<div class="a" style="left:250.5px;width:160px;text-align:center;top:665px;font-size:6.8px;color:#343d46;line-height:9px">361785A751F1D7D875DFDFDBA3A9C8EC</div>
<div class="a" style="left:400.5px;width:160px;text-align:center;top:665px;font-size:6.8px;color:#343d46;line-height:9px">535D972AD006A7F3A97F6A435E3C5EF8</div>
<div class="a" style="left:550.5px;width:160px;text-align:center;top:665px;font-size:6.8px;color:#343d46;line-height:9px">96D56CDD851956D8E3862C41656BA5B8</div>
<div class="a" style="left:700.5px;width:160px;text-align:center;top:665px;font-size:6.8px;color:#343d46;line-height:9px">411DC8F5160A86D225F003749C14544C</div>
<div class="a" style="left:850.5px;width:160px;text-align:center;top:665px;font-size:6.8px;color:#343d46;line-height:9px">95D2414306E6B4493B166006F698EDABD</div>
<div class="a" style="left:1000.5px;width:160px;text-align:center;top:665px;font-size:6.8px;color:#343d46;line-height:9px">4504306885802E2726FEB5691F78B35E</div>
<div class="a" style="right:1175px;top:677.1px;font-size:8px;color:#c8c8c8;line-height:10px">8w</div>
<div class="a" style="right:1175px;top:707.1px;font-size:8px;color:#c8c8c8;line-height:10px">5w</div>
<div class="a" style="right:1175px;top:736.8px;font-size:8px;color:#c8c8c8;line-height:10px">3w</div>
<div class="a" style="right:1175px;top:766.2px;font-size:8px;color:#c8c8c8;line-height:10px">0</div>
<div class="a" style="left:37.0px;width:60px;text-align:center;top:775.9px;font-size:9.2px;color:#dedede;line-height:12px;-webkit-text-stroke:0.25px #dedede">郑州</div>
<div class="a" style="left:87.1px;width:60px;text-align:center;top:775.9px;font-size:9.2px;color:#dedede;line-height:12px;-webkit-text-stroke:0.25px #dedede">开封</div>
<div class="a" style="left:87.1px;width:60px;text-align:center;top:747.2px;font-size:8px;color:#3a90d4;line-height:10px">8,124</div>
<div class="a" style="left:137.2px;width:60px;text-align:center;top:775.9px;font-size:9.2px;color:#dedede;line-height:12px;-webkit-text-stroke:0.25px #dedede">洛阳</div>
<div class="a" style="left:137.2px;width:60px;text-align:center;top:742.1px;font-size:8px;color:#3a90d4;line-height:10px">12,421</div>
<div class="a" style="left:187.3px;width:60px;text-align:center;top:775.9px;font-size:9.2px;color:#dedede;line-height:12px;-webkit-text-stroke:0.25px #dedede">平顶山</div>
<div class="a" style="left:187.3px;width:60px;text-align:center;top:749.6px;font-size:8px;color:#3a90d4;line-height:10px">6,139</div>
<div class="a" style="left:237.39999999999998px;width:60px;text-align:center;top:775.9px;font-size:9.2px;color:#dedede;line-height:12px;-webkit-text-stroke:0.25px #dedede">新乡</div>
<div class="a" style="left:237.39999999999998px;width:60px;text-align:center;top:736.8px;font-size:8px;color:#3a90d4;line-height:10px">16,949</div>
<div class="a" style="left:287.5px;width:60px;text-align:center;top:775.9px;font-size:9.2px;color:#dedede;line-height:12px;-webkit-text-stroke:0.25px #dedede">焦作</div>
<div class="a" style="left:287.5px;width:60px;text-align:center;top:749.0px;font-size:8px;color:#3a90d4;line-height:10px">6,643</div>
<div class="a" style="left:337.6px;width:60px;text-align:center;top:775.9px;font-size:9.2px;color:#dedede;line-height:12px;-webkit-text-stroke:0.25px #dedede">安阳</div>
<div class="a" style="left:337.6px;width:60px;text-align:center;top:749.4px;font-size:8px;color:#3a90d4;line-height:10px">6,338</div>
<div class="a" style="left:387.7px;width:60px;text-align:center;top:775.9px;font-size:9.2px;color:#dedede;line-height:12px;-webkit-text-stroke:0.25px #dedede">濮阳</div>
<div class="a" style="left:387.7px;width:60px;text-align:center;top:755.3px;font-size:8px;color:#3a90d4;line-height:10px">1,336</div>
<div class="a" style="left:437.8px;width:60px;text-align:center;top:775.9px;font-size:9.2px;color:#dedede;line-height:12px;-webkit-text-stroke:0.25px #dedede">鹤壁</div>
<div class="a" style="left:437.8px;width:60px;text-align:center;top:755.4px;font-size:8px;color:#3a90d4;line-height:10px">513</div>
<div class="a" style="left:487.9000000000001px;width:60px;text-align:center;top:775.9px;font-size:9.2px;color:#dedede;line-height:12px;-webkit-text-stroke:0.25px #dedede">三门峡</div>
<div class="a" style="left:487.9000000000001px;width:60px;text-align:center;top:755.4px;font-size:8px;color:#3a90d4;line-height:10px">553</div>
<div class="a" style="left:538.0px;width:60px;text-align:center;top:775.9px;font-size:9.2px;color:#dedede;line-height:12px;-webkit-text-stroke:0.25px #dedede">许昌</div>
<div class="a" style="left:538.0px;width:60px;text-align:center;top:754.3px;font-size:8px;color:#3a90d4;line-height:10px">2,210</div>
<div class="a" style="left:588.1px;width:60px;text-align:center;top:775.9px;font-size:9.2px;color:#dedede;line-height:12px;-webkit-text-stroke:0.25px #dedede">漯河</div>
<div class="a" style="left:588.1px;width:60px;text-align:center;top:755.4px;font-size:8px;color:#3a90d4;line-height:10px">652</div>
<div class="a" style="left:638.2px;width:60px;text-align:center;top:775.9px;font-size:9.2px;color:#dedede;line-height:12px;-webkit-text-stroke:0.25px #dedede">商丘</div>
<div class="a" style="left:638.2px;width:60px;text-align:center;top:749.6px;font-size:8px;color:#3a90d4;line-height:10px">6,118</div>
<div class="a" style="left:688.3000000000001px;width:60px;text-align:center;top:775.9px;font-size:9.2px;color:#dedede;line-height:12px;-webkit-text-stroke:0.25px #dedede">周口</div>
<div class="a" style="left:688.3000000000001px;width:60px;text-align:center;top:752.0px;font-size:8px;color:#3a90d4;line-height:10px">4,165</div>
<div class="a" style="left:738.4px;width:60px;text-align:center;top:775.9px;font-size:9.2px;color:#dedede;line-height:12px;-webkit-text-stroke:0.25px #dedede">驻马店</div>
<div class="a" style="left:738.4px;width:60px;text-align:center;top:753.9px;font-size:8px;color:#3a90d4;line-height:10px">2,537</div>
<div class="a" style="left:788.5px;width:60px;text-align:center;top:775.9px;font-size:9.2px;color:#dedede;line-height:12px;-webkit-text-stroke:0.25px #dedede">信阳</div>
<div class="a" style="left:788.5px;width:60px;text-align:center;top:747.4px;font-size:8px;color:#3a90d4;line-height:10px">8,025</div>
<div class="a" style="left:838.6px;width:60px;text-align:center;top:775.9px;font-size:9.2px;color:#dedede;line-height:12px;-webkit-text-stroke:0.25px #dedede">南阳</div>
<div class="a" style="left:838.6px;width:60px;text-align:center;top:750.4px;font-size:8px;color:#3a90d4;line-height:10px">5,489</div>
<div class="a" style="left:888.7px;width:60px;text-align:center;top:775.9px;font-size:9.2px;color:#dedede;line-height:12px;-webkit-text-stroke:0.25px #dedede">济源</div>
<div class="a" style="left:938.8000000000001px;width:60px;text-align:center;top:775.9px;font-size:9.2px;color:#dedede;line-height:12px;-webkit-text-stroke:0.25px #dedede">巩义</div>
<div class="a" style="left:938.8000000000001px;width:60px;text-align:center;top:755.4px;font-size:8px;color:#3a90d4;line-height:10px">634</div>
<div class="a" style="left:988.9px;width:60px;text-align:center;top:775.9px;font-size:9.2px;color:#dedede;line-height:12px;-webkit-text-stroke:0.25px #dedede">永城</div>
<div class="a" style="left:988.9px;width:60px;text-align:center;top:755.4px;font-size:8px;color:#3a90d4;line-height:10px">395</div>
<div class="a" style="left:1039.0px;width:60px;text-align:center;top:775.9px;font-size:9.2px;color:#dedede;line-height:12px;-webkit-text-stroke:0.25px #dedede">固始县</div>
<div class="a" style="left:1039.0px;width:60px;text-align:center;top:755.4px;font-size:8px;color:#3a90d4;line-height:10px">326</div>
<div class="a" style="left:1089.1000000000001px;width:60px;text-align:center;top:775.9px;font-size:9.2px;color:#dedede;line-height:12px;-webkit-text-stroke:0.25px #dedede">邓州</div>
<div class="a" style="left:1089.1000000000001px;width:60px;text-align:center;top:755.4px;font-size:8px;color:#3a90d4;line-height:10px">302</div>
<div class="a" style="left:37.2px;width:60px;text-align:center;top:698.6px;font-size:7px;font-weight:bold;color:#fff;line-height:8.4px">45,615</div>
<div class="a" style="left:889.2px;width:60px;text-align:center;top:759.1px;font-size:6.5px;font-weight:bold;color:#fff;line-height:7.8px">281</div>
</body></html>
